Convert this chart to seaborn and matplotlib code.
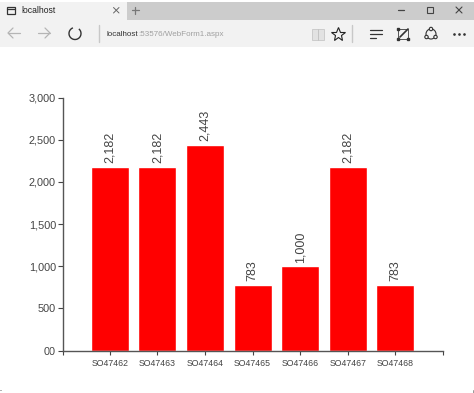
import matplotlib
matplotlib.use("Agg")
import matplotlib.pyplot as plt
from matplotlib.patches import Rectangle, Circle, Arc
import pandas as pd
import seaborn as sns

orders = ["SO47462", "SO47463", "SO47464", "SO47465", "SO47466", "SO47467", "SO47468"]
amounts = [2182, 2182, 2443, 783, 1000, 2182, 783]
y_ticks = [0, 500, 1000, 1500, 2000, 2500, 3000]
y_tick_labels = ["00", "500", "1,000", "1,500", "2,000", "2,500", "3,000"]

W, H = 474, 393


def draw_browser(fig):
    # window chrome, in pixel coordinates
    ui = fig.add_axes([0, 0, 1, 1], zorder=0)
    ui.set_xlim(0, W)
    ui.set_ylim(H, 0)
    ui.axis("off")

    ui.add_patch(Rectangle((0, 2), W, 45, color="#f2f2f2", lw=0))
    ui.add_patch(Rectangle((127, 2), W - 127, 18, color="#cccccc", lw=0))

    dark = "#333333"
    # tab
    ui.add_patch(Rectangle((7, 6.5), 8, 7, fill=False, ec=dark, lw=0.9))
    ui.plot([7, 15], [8.5, 8.5], color=dark, lw=0.9)
    ui.text(21, 10.5, "localhost", fontsize=6.2, color="#222222", va="center")
    ui.plot([113.5, 119], [7.5, 13], color="#666666", lw=0.7)
    ui.plot([113.5, 119], [13, 7.5], color="#666666", lw=0.7)
    ui.plot([132, 139], [10, 10], color="#777777", lw=0.9)
    ui.plot([135.5, 135.5], [6.5, 13.5], color="#777777", lw=0.9)

    # nav buttons
    for x0, x1, hx in [(20, 8, 13), (38, 50, 45)]:
        ui.plot([x0, x1], [33, 33], color="#b5b5b5", lw=0.9)
        ui.plot([hx, x1, hx], [28, 33, 38], color="#b5b5b5", lw=0.9)
    ui.add_patch(Arc((75, 33.5), 12, 12, theta1=-50, theta2=250, color=dark, lw=1))
    ui.plot([99, 99], [25, 42], color="#c8c8c8", lw=1)
    ui.text(107, 34.5, "localhost", fontsize=5.8, color="#333333", va="center")
    ui.text(138, 34.5, ":53576/WebForm1.aspx", fontsize=5.8, color="#a0a0a0", va="center")

    # window buttons
    ui.plot([398, 404], [10, 10], color="#444444", lw=0.9)
    ui.add_patch(Rectangle((427, 7), 6, 6, fill=False, ec="#444444", lw=0.8))
    ui.plot([456, 462], [7, 13], color="#444444", lw=0.8)
    ui.plot([456, 462], [13, 7], color="#444444", lw=0.8)

    # toolbar icons
    ui.add_patch(Rectangle((312, 29), 12, 11, fc="#e2e2e2", ec="#cccccc", lw=0.7))
    ui.plot([318, 318], [29, 40], color="#c4c4c4", lw=0.7)
    ui.plot([338], [34], marker="*", ms=10, mfc="none", mec="#222222", mew=0.8)
    ui.plot([352, 352], [25, 42], color="#c8c8c8", lw=1)
    for y, x1 in [(30, 382), (34, 382), (38, 376)]:
        ui.plot([370, x1], [y, y], color=dark, lw=0.9)
    ui.add_patch(Rectangle((398, 28.5), 10.5, 10.5, fill=False, ec="#555555", lw=0.7))
    ui.plot([400, 408], [37, 29], color=dark, lw=1.2)
    for px, py in [(398, 28.5), (408.5, 39), (398, 39)]:
        ui.plot([px], [py], "s", ms=1.6, color=dark)
    ui.add_patch(Circle((431, 34), 5, fill=False, ec=dark, lw=0.8))
    for px, py in [(431, 29), (426.5, 37), (435.5, 37)]:
        ui.add_patch(Circle((px, py), 1.7, fc="#f2f2f2", ec=dark, lw=0.8))
    for px in [454, 459, 464]:
        ui.plot([px], [34], "o", ms=0.9, color=dark)

    # corner marks of the window frame
    ui.plot([0, 1], [390, 390], color="#888888", lw=0.6)
    ui.plot([473, 473], [390, 393], color="#888888", lw=0.6)


def main():
    df = pd.DataFrame({"order": orders, "amount": amounts})
    sns.set_style("white")
    plt.rcParams["font.family"] = ["Liberation Sans", "DejaVu Sans"]

    fig = plt.figure(figsize=(W / 100, H / 100), dpi=100)
    draw_browser(fig)

    ax = fig.add_axes([62.6 / W, 1 - 350.6 / H, 380.4 / W, 253 / H], zorder=1)
    ax.patch.set_alpha(0)
    sns.barplot(data=df, x="order", y="amount", color="#ff0000", saturation=1, width=0.8, ax=ax)

    for container in ax.containers:
        ax.bar_label(container, labels=[f"{v:,}" for v in amounts], rotation=90,
                     padding=2.7, fontsize=9, color="#444444")

    ax.set_xlim(-0.99, 7.0)
    ax.set_ylim(0, 3000)
    ax.set_yticks(y_ticks, labels=y_tick_labels)
    # outer ticks at both ends of the x axis
    ax.set_xticks([-0.99, 7.0], minor=True)
    ax.set_xlabel("")
    ax.set_ylabel("")
    ax.tick_params(axis="y", length=3.4, width=0.8, color="#444444", labelsize=7.8,
                   labelcolor="#444444", pad=1.4, left=True)
    ax.tick_params(axis="x", length=3, width=0.8, color="#444444", labelsize=6.3,
                   labelcolor="#444444", pad=3, bottom=True)
    ax.tick_params(axis="x", which="minor", length=3, width=0.8, color="#444444", bottom=True)

    sns.despine(ax=ax)
    for side in ["left", "bottom"]:
        ax.spines[side].set_color("#555555")
        ax.spines[side].set_linewidth(1)

    fig.savefig("out.png", dpi=100)


if __name__ == "__main__":
    main()
